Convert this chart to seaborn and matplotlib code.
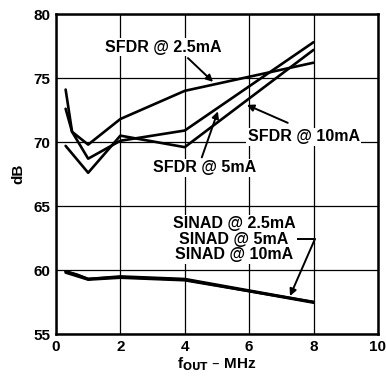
import numpy as np
import pandas as pd
import matplotlib
matplotlib.use("Agg")
import matplotlib.pyplot as plt
import seaborn as sns

# SFDR curves (dB vs fOUT in MHz)
x_sfdr_25 = [0.3, 0.5, 1, 2, 4, 8]
sfdr_25 = [74.1, 70.8, 69.8, 71.8, 74.0, 76.2]
x_sfdr_5 = [0.3, 0.5, 1, 2, 4, 8]
sfdr_5 = [72.6, 70.8, 68.7, 70.1, 70.9, 77.8]
x_sfdr_10 = [0.3, 1, 2, 4, 8]
sfdr_10 = [69.7, 67.6, 70.5, 69.6, 77.2]

# SINAD curves
x_sinad_25 = [0.3, 1, 2, 4, 8]
sinad_25 = [59.9, 59.3, 59.5, 59.3, 57.5]
x_sinad_5 = [0.3, 0.65, 1, 2, 4, 8]
sinad_5 = [59.9, 59.65, 59.3, 59.45, 59.25, 57.45]
x_sinad_10 = [0.3, 1, 2, 4, 8]
sinad_10 = [59.8, 59.25, 59.4, 59.2, 57.5]

x_ticks = [0, 2, 4, 6, 8, 10]
y_ticks = [55, 60, 65, 70, 75, 80]

sns.set_style("white")
plt.rcParams['font.family'] = ['Liberation Sans', 'DejaVu Sans']
plt.rcParams['font.weight'] = 'bold'
plt.rcParams['text.color'] = 'black'
plt.rcParams['axes.labelcolor'] = 'black'
plt.rcParams['xtick.color'] = 'black'
plt.rcParams['ytick.color'] = 'black'

fig = plt.figure(figsize=(3.86, 3.80), dpi=100)
ax = fig.add_axes([0.145, 0.121, 0.834, 0.842])

for xs, ys in [(x_sfdr_25, sfdr_25), (x_sfdr_5, sfdr_5), (x_sfdr_10, sfdr_10)]:
    sns.lineplot(x=xs, y=ys, ax=ax, color="black", linewidth=1.9, zorder=3)
for xs, ys in [(x_sinad_25, sinad_25), (x_sinad_5, sinad_5), (x_sinad_10, sinad_10)]:
    sns.lineplot(x=xs, y=ys, ax=ax, color="black", linewidth=1.9, zorder=3)

ax.set_xlim(0, 10)
ax.set_ylim(55, 80)
ax.set_xticks(x_ticks)
ax.set_yticks(y_ticks)
ax.set_xticklabels([str(v) for v in x_ticks], fontsize=11, fontweight='bold')
ax.set_yticklabels([str(v) for v in y_ticks], fontsize=11, fontweight='bold')
ax.grid(True, color="black", linewidth=0.9)
ax.set_axisbelow(True)
for s in ax.spines.values():
    s.set_visible(True)
    s.set_color("black")
    s.set_linewidth(1.8)
ax.tick_params(length=0, pad=4)

ax.set_xlabel(r"f$_{\mathbf{OUT}}$ – MHz", fontsize=11, fontweight='bold', labelpad=1)
ax.set_ylabel("dB", fontsize=11, fontweight='bold', labelpad=6)

akw = dict(arrowstyle="-|>", color="black", lw=1.4, mutation_scale=10,
           shrinkA=0, shrinkB=0)
tkw = dict(fontsize=11.5, fontweight='bold', ha="center", va="center", color="black",
           zorder=4, bbox=dict(facecolor="white", edgecolor="none", pad=1))

ax.text(3.32, 77.4, "SFDR @ 2.5mA", **tkw)
ax.annotate("", xy=(4.88, 74.7), xytext=(4.1, 76.56), arrowprops=akw)

ax.text(7.7, 70.4, "SFDR @ 10mA", **tkw)
ax.annotate("", xy=(5.93, 72.9), xytext=(7.2, 71.5), arrowprops=akw)

ax.text(4.63, 68.0, "SFDR @ 5mA", **tkw)
ax.annotate("", xy=(5.03, 72.4), xytext=(4.53, 68.8), arrowprops=akw)

ax.text(5.53, 62.4, "SINAD @ 2.5mA\nSINAD @ 5mA\nSINAD @ 10mA",
        linespacing=1.05, **tkw)
ax.plot([7.4, 8.04], [62.4, 62.4], color="black", lw=1.4)
ax.annotate("", xy=(7.27, 57.97), xytext=(8.04, 62.4), arrowprops=akw)

fig.savefig("out.png", dpi=100)
